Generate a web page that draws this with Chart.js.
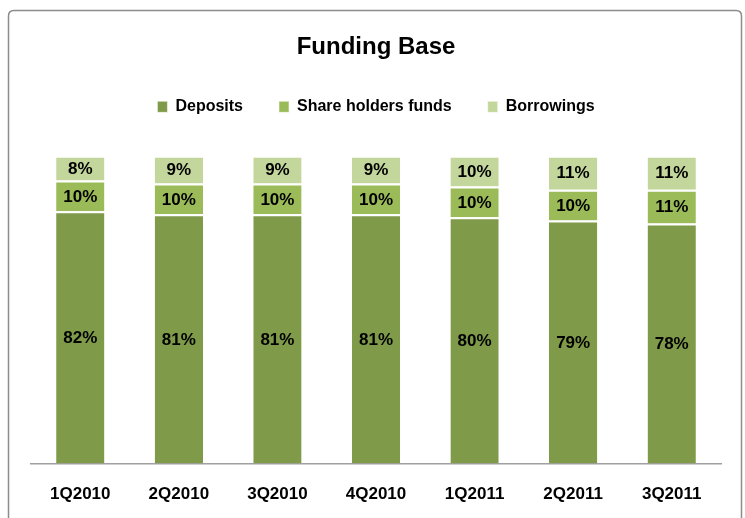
<!DOCTYPE html>
<html>
<head>
<meta charset="utf-8">
<script src="https://cdn.jsdelivr.net/npm/chart.js@4"></script>
<style>
  html, body { margin: 0; padding: 0; background: #fff; }
  #wrap { width: 745px; height: 518px; position: relative; }
</style>
</head>
<body>
<div id="wrap"><canvas id="chartFunding" width="745" height="518"></canvas></div>
<script>
const categories = ["1Q2010", "2Q2010", "3Q2010", "4Q2010", "1Q2011", "2Q2011", "3Q2011"];
const deposits = [82, 81, 81, 81, 80, 79, 78];
const shareholders = [10, 10, 10, 10, 10, 10, 11];
const borrowings = [8, 9, 9, 9, 10, 11, 11];

const FONT = "'Liberation Sans Narrow', 'Liberation Sans', sans-serif";

// frame around the chart
const framePlugin = {
  id: "frame",
  beforeDraw(chart) {
    const c = chart.ctx;
    c.save();
    c.fillStyle = "#fff";
    c.fillRect(0, 0, chart.width, chart.height);
    c.strokeStyle = "#8c8c8c";
    c.lineWidth = 1.5;
    c.beginPath();
    c.moveTo(8.5, 530);
    c.lineTo(8.5, 16);
    c.quadraticCurveTo(8.5, 10.5, 14, 10.5);
    c.lineTo(736, 10.5);
    c.quadraticCurveTo(741.5, 10.5, 741.5, 16);
    c.lineTo(741.5, 530);
    c.stroke();
    c.restore();
  }
};

// extra space under the legend
const legendGap = {
  id: "legendGap",
  beforeInit(chart) {
    const fit = chart.legend.fit;
    chart.legend.fit = function () {
      fit.call(this);
      this.height += 31;
    };
  }
};

// percentages inside the segments
const valueLabels = {
  id: "valueLabels",
  afterDatasetsDraw(chart) {
    const c = chart.ctx;
    c.save();
    c.font = "bold 17px " + FONT;
    c.fillStyle = "#000";
    c.textAlign = "center";
    c.textBaseline = "middle";
    chart.data.datasets.forEach((ds, i) => {
      chart.getDatasetMeta(i).data.forEach((bar, j) => {
        const { x, y, base } = bar.getProps(["x", "y", "base"], true);
        c.fillText(ds.data[j] + "%", x, (y + base) / 2 + 1);
      });
    });
    c.restore();
  }
};

new Chart(document.getElementById("chartFunding"), {
  type: "bar",
  data: {
    labels: categories,
    datasets: [
      { label: "Deposits", data: deposits, backgroundColor: "#7f9a48" },
      { label: "Share holders funds", data: shareholders, backgroundColor: "#9bbb59" },
      { label: "Borrowings", data: borrowings, backgroundColor: "#c3d69b" }
    ].map(d => Object.assign(d, {
      borderColor: "#fff",
      borderWidth: { top: 2, bottom: 0, left: 0, right: 0 },
      borderSkipped: false,
      barPercentage: 0.49,
      categoryPercentage: 1
    }))
  },
  options: {
    responsive: false,
    animation: false,
    layout: { padding: { left: 31, right: 24, top: 0, bottom: -8 } },
    plugins: {
      title: {
        display: true,
        text: "Funding Base",
        color: "#000",
        font: { family: FONT, size: 24, weight: "bold" },
        padding: { top: 33, bottom: 1 }
      },
      legend: {
        display: true,
        labels: {
          color: "#000",
          font: { family: FONT, size: 16, weight: "bold" },
          boxWidth: 10,
          boxHeight: 11,
          padding: 36
        }
      },
      tooltip: { enabled: false }
    },
    scales: {
      x: {
        stacked: true,
        grid: { display: false, drawTicks: false },
        border: { display: true, color: "#a0a0a0", width: 1.5 },
        ticks: {
          color: "#000",
          padding: 21,
          font: { family: FONT, size: 17, weight: "bold" }
        }
      },
      y: {
        stacked: true,
        display: false,
        min: 0,
        max: 100
      }
    }
  },
  plugins: [framePlugin, legendGap, valueLabels]
});
</script>
</body>
</html>
